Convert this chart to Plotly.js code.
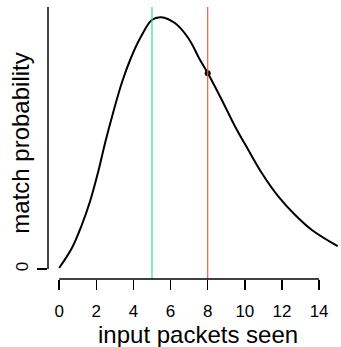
<!DOCTYPE html>
<html>
<head>
<meta charset="utf-8">
<script src="https://cdn.plot.ly/plotly-3.0.1.min.js"></script>
<style>html,body{margin:0;padding:0;background:#fff;}#chart{width:341px;height:347px;}</style>
</head>
<body>
<div id="chart"></div>
<script>
// Curve (x: input packets seen, y: match probability, arbitrary scale)
const curveX = [0, 0.68, 1.22, 1.67, 2.12, 2.48, 2.92, 3.38, 3.82, 4.36, 4.99, 5.49, 6.25, 6.96, 7.59, 8.01, 8.76, 9.48, 10.19, 10.92, 11.81, 12.71, 13.61, 15];
const curveY = [0.001, 0.0207, 0.044, 0.0680, 0.0985, 0.1265, 0.1573, 0.1865, 0.2090, 0.2307, 0.2490, 0.2517, 0.2457, 0.2307, 0.2090, 0.1957, 0.1690, 0.1423, 0.1190, 0.0957, 0.0723, 0.0540, 0.0390, 0.0228];
const markX = [8];
const markY = [0.1957];
const greenX = 5;
const redX = 8;
const xTickVals = [0, 2, 4, 6, 8, 10, 12, 14];
const xTickText = ['0', '2', '4', '6', '8', '10', '12', '14'];
const yTickVals = [0];
const yTickText = ['0'];
const xTitle = 'input packets seen';
const yTitle = 'match probability';

const xRange = [-0.6, 15.178];
const yRange = [-0.010, 0.262];

const font = 'Liberation Sans, Arial, Helvetica, sans-serif';

const data = [
  {x: curveX, y: curveY, type: 'scatter', mode: 'lines',
   line: {color: '#000', width: 2, shape: 'spline', smoothing: 1.0},
   hoverinfo: 'skip', showlegend: false},
  {x: markX, y: markY, type: 'scatter', mode: 'markers',
   marker: {color: '#000', size: 6}, showlegend: false}
];

const layout = {
  width: 341, height: 347,
  margin: {l: 48, r: 0, t: 7, b: 68},
  paper_bgcolor: '#fff', plot_bgcolor: '#fff',
  font: {family: font, color: '#000'},
  showlegend: false,
  xaxis: {
    range: xRange, showgrid: false, zeroline: false, showline: false,
    tickvals: xTickVals, ticktext: xTickText,
    ticks: 'outside', ticklen: 10, tickwidth: 1.5, tickcolor: '#000',
    ticklabelstandoff: 7,
    tickfont: {size: 17, family: font, color: '#000'}
  },
  yaxis: {
    range: yRange, showgrid: false, zeroline: false, showline: false,
    tickvals: yTickVals, ticktext: yTickText, tickangle: -90,
    ticks: 'outside', ticklen: 10, tickwidth: 1.5, tickcolor: '#000',
    ticklabelstandoff: 2,
    tickfont: {size: 17, family: font, color: '#000'}
  },
  annotations: [
    {text: yTitle, xref: 'paper', yref: 'paper', x: -0.1,
     y: 0.5, xanchor: 'center', yanchor: 'middle', textangle: -90, showarrow: false,
     xshift: 1, yshift: 0,
     font: {size: 24, family: font, color: '#000'}},
    {text: xTitle, xref: 'paper', yref: 'paper', x: 0.512,
     y: 0, xanchor: 'center', yanchor: 'middle', showarrow: false,
     yshift: -55,
     font: {size: 24, family: font, color: '#000'}}
  ],
  shapes: [
    {type: 'line', xref: 'x', yref: 'paper', x0: greenX, x1: greenX, y0: 0, y1: 1,
     line: {color: '#2fe08a', width: 1.2}},
    {type: 'line', xref: 'x', yref: 'paper', x0: redX, x1: redX, y0: 0, y1: 1,
     line: {color: '#f25a48', width: 1.2}},
    {type: 'line', xref: 'x', yref: 'paper', x0: xTickVals[0], x1: xTickVals[xTickVals.length - 1], y0: 0, y1: 0,
     line: {color: '#000', width: 1.5}},
    {type: 'line', xref: 'paper', yref: 'y', x0: 0, x1: 0, y0: yTickVals[0], y1: yRange[1],
     line: {color: '#000', width: 1.5}}
  ]
};

Plotly.newPlot('chart', data, layout, {staticPlot: true, displayModeBar: false});
</script>
</body>
</html>
